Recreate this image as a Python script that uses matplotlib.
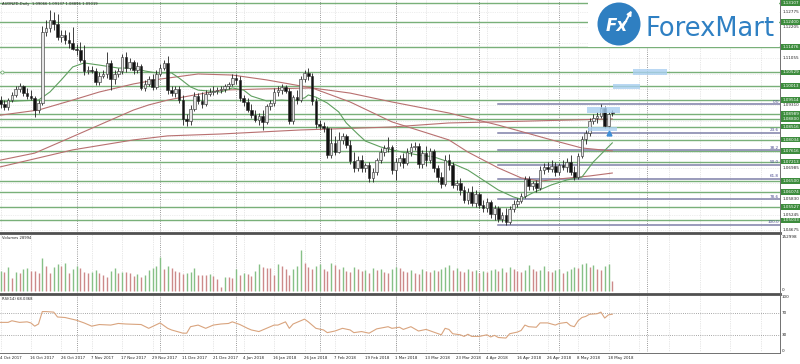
import matplotlib
matplotlib.use("Agg")
import matplotlib.pyplot as plt
import matplotlib.transforms as mtrans
from matplotlib.patches import Rectangle, Circle
from matplotlib.lines import Line2D

# ---------------- data ----------------
title = "AUDNZD,Daily  1.09066 1.09137 1.08896 1.09019"
volume_title = "Volumes 28994"
rsi_title = "RSI(14) 68.0368"

opens = [1.0950,1.0935,1.0924,1.0950,1.0969,1.0991,1.1002,1.0976,1.0965,1.0958,
1.0913,1.0939,1.1203,1.1218,1.1248,1.1233,1.1184,1.1192,1.1173,1.1162,
1.1140,1.1136,1.1099,1.1058,1.1062,1.1058,1.1017,1.1039,1.1047,1.1088,
1.1028,1.1047,1.1058,1.1110,1.1069,1.1092,1.1062,1.1077,1.0995,1.1010,
1.1028,1.0999,1.1047,1.1069,1.1088,1.0987,1.0976,1.0991,1.0950,1.0880,
1.0872,1.0917,1.0965,1.0947,1.0935,1.0973,1.0980,1.0984,1.0987,1.0991,
1.1002,1.1010,1.1032,1.1025,1.0958,1.0943,1.0913,1.0895,1.0876,1.0891,
1.0869,1.0928,1.0939,1.0980,1.0987,1.0999,1.0984,1.0872,1.0961,1.0950,
1.1028,1.1051,1.1040,1.0947,1.0861,1.0854,1.0846,1.0746,1.0791,1.0757,
1.0802,1.0817,1.0783,1.0724,1.0698,1.0727,1.0698,1.0709,1.0661,1.0683,
1.0727,1.0757,1.0772,1.0776,1.0690,1.0720,1.0735,1.0716,1.0757,1.0776,
1.0779,1.0713,1.0753,1.0727,1.0761,1.0698,1.0664,1.0638,1.0727,1.0709,
1.0635,1.0642,1.0616,1.0579,1.0609,1.0568,1.0601,1.0560,1.0549,1.0571,
1.0527,1.0549,1.0508,1.0523,1.0497,1.0545,1.0564,1.0575,1.0594,1.0657,
1.0631,1.0642,1.0623,1.0690,1.0701,1.0694,1.0705,1.0683,1.0709,1.0701,
1.0720,1.0683,1.0664,1.0742,1.0806,1.0828,1.0872,1.0883,1.0891,1.0921,
1.0854,1.09066]

highs = [1.0965,1.0950,1.0958,1.0980,1.1002,1.1014,1.1006,1.0995,1.0987,1.0965,
1.0950,1.1225,1.1248,1.1285,1.1277,1.1270,1.1210,1.1210,1.1203,1.1222,
1.1158,1.1166,1.1155,1.1077,1.1077,1.1069,1.1054,1.1062,1.1129,1.1099,
1.1062,1.1069,1.1121,1.1129,1.1106,1.1099,1.1092,1.1084,1.1025,1.1040,
1.1047,1.1062,1.1084,1.1099,1.1114,1.1002,1.1002,1.1002,1.0969,1.0898,
1.0932,1.0980,1.0976,1.0980,1.0987,1.0995,1.1002,1.0999,1.1002,1.1010,
1.1017,1.1047,1.1047,1.1040,1.0969,1.0958,1.0935,1.0913,1.0902,1.0913,
1.0935,1.0950,1.0995,1.1002,1.1010,1.1006,1.0995,1.0969,1.0987,1.1040,
1.1062,1.1069,1.1051,1.0958,1.0876,1.0869,1.0854,1.0846,1.0817,1.0831,
1.0828,1.0824,1.0802,1.0757,1.0742,1.0746,1.0716,1.0720,1.0698,1.0735,
1.0772,1.0783,1.0813,1.0783,1.0735,1.0746,1.0753,1.0772,1.0791,1.0794,
1.0791,1.0765,1.0779,1.0772,1.0768,1.0709,1.0683,1.0746,1.0750,1.0720,
1.0653,1.0661,1.0631,1.0623,1.0631,1.0616,1.0609,1.0579,1.0586,1.0579,
1.0560,1.0557,1.0534,1.0549,1.0557,1.0579,1.0586,1.0605,1.0668,1.0668,
1.0649,1.0653,1.0705,1.0716,1.0720,1.0727,1.0720,1.0716,1.0727,1.0735,
1.0746,1.0705,1.0753,1.0817,1.0839,1.0883,1.0898,1.0906,1.0935,1.0928,
1.0906,1.09137]

lows = [1.0921,1.0913,1.0913,1.0943,1.0961,1.0980,1.0965,1.0954,1.0950,1.0887,
1.0902,1.0932,1.1188,1.1203,1.1210,1.1173,1.1166,1.1158,1.1144,1.1136,
1.1117,1.1092,1.1043,1.1047,1.1051,1.1006,1.1006,1.1032,1.1032,1.0987,
1.1010,1.1036,1.1047,1.1054,1.1062,1.1047,1.1051,1.0987,1.0984,1.1002,
1.0987,1.0991,1.1040,1.1062,1.0973,1.0965,1.0961,1.0939,1.0857,1.0854,
1.0857,1.0909,1.0935,1.0921,1.0928,1.0965,1.0969,1.0973,1.0976,1.0980,
1.0991,1.1002,1.1010,1.0947,1.0928,1.0906,1.0883,1.0869,1.0857,1.0839,
1.0861,1.0913,1.0928,1.0965,1.0973,1.0976,1.0861,1.0861,1.0935,1.0943,
1.1017,1.1025,1.0932,1.0846,1.0843,1.0831,1.0735,1.0735,1.0746,1.0753,
1.0787,1.0772,1.0713,1.0683,1.0687,1.0683,1.0683,1.0646,1.0646,1.0672,
1.0716,1.0742,1.0757,1.0675,1.0653,1.0705,1.0698,1.0709,1.0742,1.0765,
1.0698,1.0698,1.0705,1.0716,1.0683,1.0646,1.0623,1.0631,1.0690,1.0623,
1.0616,1.0597,1.0568,1.0564,1.0557,1.0553,1.0549,1.0534,1.0534,1.0512,
1.0505,1.0497,1.0497,1.0486,1.0490,1.0534,1.0553,1.0568,1.0586,1.0616,
1.0616,1.0609,1.0616,1.0675,1.0683,1.0683,1.0668,1.0672,1.0690,1.0683,
1.0672,1.0653,1.0657,1.0735,1.0787,1.0817,1.0861,1.0865,1.0883,1.0846,
1.0846,1.08896]

closes = [1.0935,1.0924,1.0950,1.0969,1.0991,1.1002,1.0976,1.0965,1.0958,1.0913,
1.0939,1.1203,1.1218,1.1248,1.1233,1.1184,1.1192,1.1173,1.1162,1.1140,
1.1136,1.1099,1.1058,1.1062,1.1058,1.1017,1.1039,1.1047,1.1088,1.1028,
1.1047,1.1058,1.1110,1.1069,1.1092,1.1062,1.1077,1.0995,1.1010,1.1028,
1.0999,1.1047,1.1069,1.1088,1.0987,1.0976,1.0991,1.0950,1.0880,1.0872,
1.0917,1.0965,1.0947,1.0935,1.0973,1.0980,1.0984,1.0987,1.0991,1.1002,
1.1010,1.1032,1.1025,1.0958,1.0943,1.0913,1.0895,1.0876,1.0891,1.0869,
1.0928,1.0939,1.0980,1.0987,1.0999,1.0984,1.0872,1.0961,1.0950,1.1028,
1.1051,1.1040,1.0947,1.0861,1.0854,1.0846,1.0746,1.0791,1.0757,1.0802,
1.0817,1.0783,1.0724,1.0698,1.0727,1.0698,1.0709,1.0661,1.0683,1.0727,
1.0757,1.0772,1.0776,1.0690,1.0720,1.0735,1.0716,1.0757,1.0776,1.0779,
1.0713,1.0753,1.0727,1.0761,1.0698,1.0664,1.0638,1.0727,1.0709,1.0635,
1.0642,1.0616,1.0579,1.0609,1.0568,1.0601,1.0560,1.0549,1.0571,1.0527,
1.0549,1.0508,1.0523,1.0497,1.0545,1.0564,1.0575,1.0594,1.0657,1.0631,
1.0642,1.0623,1.0690,1.0701,1.0694,1.0705,1.0683,1.0709,1.0701,1.0720,
1.0683,1.0664,1.0742,1.0806,1.0828,1.0872,1.0883,1.0891,1.0921,1.0854,
1.0898,1.09019]

volumes = [56000,
53200,67200,36400,53200,50400,61600,64400,56000,56000,50400,
92400,70000,50400,67200,75600,70000,78400,50400,61600,70000,
64400,53200,50400,53200,58800,50400,44800,39200,56000,64400,
50400,53200,53200,50400,42000,47600,
39200,44800,58800,64400,70000,
95200,61600,70000,64400,56000,53200,47600,50400,53200,64400,
44800,44800,44800,47600,42000,33600,11200,39200,39200,36400,
61600,44800,50400,47600,42000,56000,75600,67200,64400,64400,
44800,75600,70000,61600,44800,61600,70000,114800,
78400,67200,61600,70000,75600,61600,56000,78400,72800,61600,
67200,56000,53200,67200,61600,56000,58800,50400,64400,58800,
61600,53200,50400,61600,67200,64400,56000,53200,58800,50400,
47600,61600,56000,53200,58800,56000,61600,67200,72800,58800,
64400,56000,53200,61600,56000,58800,50400,56000,53200,58800,
61600,56000,64400,53200,67200,61600,56000,53200,58800,72800,
61600,56000,58800,70000,56000,53200,58800,61600,50400,56000,
61600,67200,64400,75600,78400,67200,72800,61600,58800,70000,
75600,28994]

rsi_bars = [0,2,3,5,7,8,9,10,11,12,14,15,17,20,22,24,26,29,31,33,37,39,42,44,45,48,49,50,52,54,
            56,58,60,61,63,65,66,68,69,72,73,75,76,77,78,80,81,83,85,86,88,90,92,93,95,97,99,102,103,105,
            106,108,110,112,114,116,117,118,119,121,122,123,124,126,128,129,130,131,133,134,136,137,138,139,141,142,144,146,147,149,
            150,151,152,153,154,155,157,158,159,160,161]
rsi_vals = [53,53,56,53,54,52,46,50,73,73,72,63,62,57,52,46,49,48,51,50,49,42,52,42,39,33,33,45,48,42,
            48,50,51,54,49,42,39,36,39,48,48,54,42,50,53,59,54,42,39,34,37,42,39,34,36,33,41,45,42,44,
            40,45,37,40,35,30,42,40,32,30,27,31,27,27,30,26,29,25,24,32,35,38,48,45,44,52,52,48,51,53,
            47,45,56,62,64,68,69,72,61,67,68.04]

ma20_bars = [0,5,10,13,16,19,22,26,31,35,38,41,45,47,50,52,58,61,64,66,70,74,77,80,81,83,86,89,91,94,
             96,100,103,107,110,114,118,123,127,131,135,137,140,145,149,153,156,161]
ma20_vals = [1.0943,1.0947,1.0950,1.0980,1.1025,1.1073,1.1088,1.1080,1.1069,1.1069,1.1058,1.1051,1.1051,1.1032,
             1.0999,1.0987,1.0980,1.0995,1.0987,1.0965,1.0947,1.0950,1.0947,1.0958,1.0969,1.0961,1.0939,1.0906,
             1.0865,1.0824,1.0798,1.0776,1.0765,1.0753,1.0746,1.0739,1.0720,1.0690,1.0653,1.0616,1.0590,1.0582,
             1.0605,1.0635,1.0653,1.0664,1.0720,1.0791]
ma50_bars = [0,10,19,26,35,42,52,61,70,82,92,103,118,123,131,137,142,147,155,161]
ma50_vals = [1.0894,1.0913,1.0950,1.0980,1.1010,1.1028,1.1047,1.1043,1.1025,1.0995,1.0943,1.0869,1.0802,
             1.0757,1.0698,1.0661,1.0649,1.0657,1.0668,1.0679]
ma100_bars = [0,9,17,23,29,35,39,44,48,58,68,82,92,103,118,131,145,153,161]
ma100_vals = [1.0727,1.0753,1.0802,1.0839,1.0876,1.0913,1.0932,1.0950,1.0961,1.0987,1.0991,1.0995,1.0976,
              1.0943,1.0902,1.0857,1.0802,1.0772,1.0761]
ma200_bars = [0,19,35,44,58,79,103,118,139,161]
ma200_vals = [1.0702,1.0765,1.0802,1.0817,1.0824,1.0839,1.0850,1.0865,1.0872,1.0880]

green_levels = [1.13107,1.12400,1.11476,1.10529,1.10013,1.09514,1.08989,1.08800,1.08516,1.08034,
                1.07616,1.07213,1.06500,1.06074,1.05527,1.05033]
price_ticks = [1.12775,1.12205,1.11635,1.11055,1.10485,1.09910,1.09310,1.08735,1.08150,1.07570,
               1.06985,1.06410,1.05830,1.05245,1.04675]

fib_high = 1.0935
fib_low = 1.0486
fib_start_bar = 131
fib_levels = [0.0, 23.6, 38.2, 50.0, 61.8, 78.6, 100.0]

date_labels = ["4 Oct 2017","16 Oct 2017","26 Oct 2017","7 Nov 2017","17 Nov 2017","29 Nov 2017",
               "11 Dec 2017","21 Dec 2017","4 Jan 2018","16 Jan 2018","26 Jan 2018","7 Feb 2018",
               "19 Feb 2018","1 Mar 2018","13 Mar 2018","23 Mar 2018","4 Apr 2018","16 Apr 2018",
               "26 Apr 2018","8 May 2018","18 May 2018"]
label_step = 8
month_start_bars = [20,42,62,84,104,126,147,170]

vol_max_label = "152998"
rsi_ticks = [100, 70, 30, 0]

# order-box annotations (bar from, bar to, price low, price high)
order_boxes = [(166.4,175.4,1.10432,1.10655),(161.2,168.3,1.0991,1.1010),
               (154.3,163.0,1.0902,1.0924),(154.6,162.2,1.0835,1.0850)]
arrow_bar, arrow_price = 160, 1.0826

# ---------------- layout ----------------
W, H = 800, 364
fig = plt.figure(figsize=(8, 3.64), dpi=100)
fig.patch.set_facecolor("white")
def fy(p): return 1 - p / H
def fx(p): return p / W
PW = 780
XL = (-0.5 / 3.8, (PW - 0.5) / 3.8)
PTOP, PBOT = 1.13218, 1.04599
PX = (PTOP - PBOT) / 232.0   # price per pixel

ax = fig.add_axes([0, fy(232), fx(PW), 232 / H])
axs = fig.add_axes([fx(PW), fy(232), fx(W - PW), 232 / H])
axv = fig.add_axes([0, fy(293), fx(PW), (293 - 234) / H])
axr = fig.add_axes([0, fy(352), fx(PW), (352 - 295) / H])
for a in (ax, axv, axr):
    a.set_xlim(*XL)
    a.axis("off")
ax.set_ylim(PBOT, PTOP)
axs.set_ylim(PBOT, PTOP); axs.set_xlim(0, 20); axs.axis("off")
axv.set_ylim(-5000, 160000)
axr.set_ylim(-1.85, 103.7)

n = len(closes)
xs = list(range(n))
dot = (0, (1, 1.6))
# vertical grid
for a in (ax, axv, axr):
    for b in range(0, 206, label_step):
        a.axvline(b, color="#d0d0d0", lw=0.5, ls=dot, zorder=0)
    for b in month_start_bars:
        a.axvline(b, color="#7a7a7a", lw=0.6, ls=dot, zorder=1)
for p in price_ticks:
    ax.axhline(p, color="#dedede", lw=0.5, ls=dot, zorder=0)

# green support/resistance lines
for p in green_levels:
    ax.axhline(p, color="#79b079", lw=1.0, zorder=2)
ax.plot([0.3], [1.10529], marker="o", ms=2.2, mfc="white", mec="#79b079", mew=0.6, zorder=3)

# fibonacci
rng = fib_high - fib_low
for lv in fib_levels:
    p = fib_high - rng * lv / 100.0
    ax.plot([fib_start_bar, XL[1]], [p, p], color="#7f80a8", lw=1.1, zorder=2)
    ax.text(XL[1] - 0.3, p + 0.0002, f"{lv:.1f}", fontsize=3.0, color="#4a4a90",
            ha="right", va="bottom", zorder=6)

# moving averages
ax.plot(ma200_bars, ma200_vals, color="#b87070", lw=0.8, zorder=3)
ax.plot(ma100_bars, ma100_vals, color="#b87070", lw=0.8, zorder=3)
ax.plot(ma50_bars, ma50_vals, color="#b87070", lw=0.8, zorder=3)
ax.plot(ma20_bars, ma20_vals, color="#5f9f5f", lw=0.8, zorder=3)

# candles
ax.vlines(xs, lows, highs, color="#202020", lw=0.6, zorder=4)
bottoms = [min(o, c) for o, c in zip(opens, closes)]
heights = [max(abs(c - o), 0.00005) for o, c in zip(opens, closes)]
colors = ["#e4e4e4" if c >= o else "#111111" for o, c in zip(opens, closes)]
ax.bar(xs, heights, bottom=bottoms, width=0.72, color=colors, edgecolor="#2a2a2a",
       linewidth=0.4, zorder=5)

# order boxes + arrow
for b0, b1, p0, p1 in order_boxes:
    ax.add_patch(Rectangle((b0, p0), b1 - b0, p1 - p0, facecolor="#a9cff0", edgecolor="none",
                           alpha=0.8, zorder=6))
ax.plot([arrow_bar], [arrow_price], marker="^", ms=3.5, color="#3f8fd8", zorder=7)

# price scale: plain ticks hidden where a green level label sits
box_h = 2.8 * PX
for p in price_ticks:
    if min(abs(p - g) for g in green_levels) < 5 * PX:
        continue
    axs.text(2.2, p, f"{p:.5f}", fontsize=3.0, color="#222222", va="center", ha="left")
for p in green_levels:
    axs.add_patch(Rectangle((0.6, p - box_h), 19.4, 2 * box_h, facecolor="#3d8c3d",
                            edgecolor="none", zorder=4))
    axs.text(2.2, p, f"{p:.5f}", fontsize=3.0, color="white", va="center", ha="left", zorder=5)

# volumes
vcol = ["#86c086"] + ["#86c086" if volumes[i] > volumes[i - 1] else "#cc8a8a" for i in range(1, n)]
axv.vlines(xs, 0, volumes, colors=vcol, lw=1.0, zorder=3)

# RSI
for lv in (70, 30):
    axr.axhline(lv, color="#8a8a8a", lw=0.6, ls=dot, zorder=1)
axr.plot(rsi_bars, rsi_vals, color="#d9a47e", lw=0.8, zorder=3)

# texts
fig.text(fx(2), fy(4.5), title, fontsize=2.7, color="#222222", va="center", ha="left")
fig.text(fx(2), fy(238), volume_title, fontsize=2.7, color="#222222", va="center", ha="left")
fig.text(fx(2), fy(299.5), rsi_title, fontsize=2.7, color="#222222", va="center", ha="left")
fig.text(fx(782), fy(237), vol_max_label, fontsize=3.0, color="#222222", va="center")
fig.text(fx(782), fy(290), "0", fontsize=3.0, color="#222222", va="center")
for t in rsi_ticks:
    fig.text(fx(782), fy(351 - t * 0.54), str(t), fontsize=3.0, color="#222222", va="center")

blend = mtrans.blended_transform_factory(axr.transData, fig.transFigure)
for k, lab in enumerate(date_labels):
    axr.text(k * label_step - 0.2, fy(358), lab, fontsize=2.8, color="#222222",
             ha="left", va="center", transform=blend, clip_on=False)

# frame lines
for yy, lw in ((233, 2.0), (294, 2.0)):
    fig.add_artist(Line2D([0, fx(PW)], [fy(yy), fy(yy)], color="#505050", lw=lw))
fig.add_artist(Line2D([0, fx(PW)], [fy(352.5), fy(352.5)], color="#707070", lw=0.7))
fig.add_artist(Line2D([fx(PW), fx(PW)], [fy(352.5), 1], color="#707070", lw=0.7))

# logo
axl = fig.add_axes([fx(588), fy(47), fx(191), 47 / H])
axl.set_xlim(0, 191); axl.set_ylim(47, 0); axl.axis("off")
axl.add_patch(Rectangle((0, 0), 191, 47, facecolor="white", edgecolor="none"))
axl.add_patch(Circle((31, 24), 21.5, facecolor="#2f7fc1", edgecolor="none"))
axl.text(29, 26, "Fx", fontsize=12, color="white", fontweight="bold", style="italic",
         ha="center", va="center", family="DejaVu Sans")
axl.annotate("", xy=(45, 8), xytext=(33, 30),
             arrowprops=dict(arrowstyle="-|>", color="white", lw=1.4, mutation_scale=6))
axl.text(57, 36.5, "ForexMart", fontsize=18.5, color="#2f80c3", ha="left", va="baseline",
         family="DejaVu Sans")

fig.savefig("out.png", dpi=100)
